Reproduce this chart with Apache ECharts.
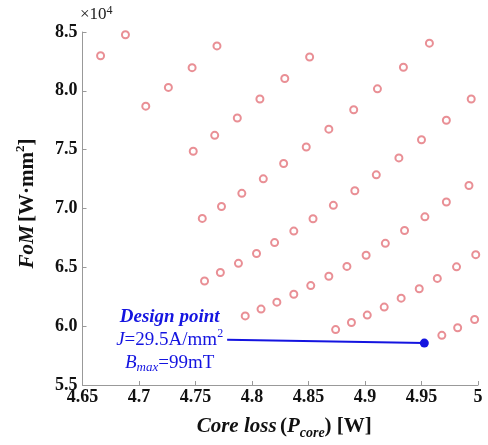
<!DOCTYPE html>
<html>
<head>
<meta charset="utf-8">
<script src="https://cdn.jsdelivr.net/npm/echarts@6/dist/echarts.min.js"></script>
<style>
  html, body { margin: 0; padding: 0; background: #fff; }
  #chart { width: 488px; height: 445px; }
</style>
</head>
<body>
<div id="chart"></div>
<script>
  // core loss [W], FoM [x10^4 W*mm^2] -- one array per sweep
  const curve1 = [[4.666, 8.298], [4.688, 8.477]];
  const curve2 = [[4.706, 7.870], [4.726, 8.029], [4.747, 8.197], [4.769, 8.382]];
  const curve3 = [[4.748, 7.487], [4.767, 7.622], [4.787, 7.769], [4.807, 7.931], [4.829, 8.105], [4.851, 8.288]];
  const curve4 = [[4.756, 6.916], [4.773, 7.017], [4.791, 7.129], [4.810, 7.252], [4.828, 7.382], [4.848, 7.523],
                  [4.868, 7.674], [4.890, 7.839], [4.911, 8.017], [4.934, 8.200], [4.957, 8.405]];
  const curve5 = [[4.758, 6.384], [4.772, 6.456], [4.788, 6.534], [4.804, 6.618], [4.820, 6.710], [4.837, 6.808],
                  [4.854, 6.913], [4.872, 7.027], [4.891, 7.151], [4.910, 7.286], [4.930, 7.430], [4.950, 7.584],
                  [4.972, 7.750], [4.994, 7.931]];
  const curve6 = [[4.794, 6.087], [4.808, 6.145], [4.822, 6.204], [4.837, 6.271], [4.852, 6.345], [4.868, 6.424],
                  [4.884, 6.508], [4.901, 6.603], [4.918, 6.704], [4.935, 6.813], [4.953, 6.929], [4.972, 7.055],
                  [4.992, 7.195]];
  const curve7 = [[4.874, 5.971], [4.888, 6.031], [4.902, 6.094], [4.917, 6.162], [4.932, 6.238], [4.948, 6.318],
                  [4.964, 6.406], [4.981, 6.504], [4.998, 6.608]];
  const curve8 = [[4.968, 5.922], [4.982, 5.987], [4.997, 6.057]];
  const designPoint = [4.9525, 5.856];
  const labelAnchor = [4.778, 5.884];

  const xMin = 4.65, xMax = 5, xStep = 0.05;
  const yMin = 5.5, yMax = 8.5, yStep = 0.5;

  const serif = '"Liberation Serif", "Times New Roman", serif';
  const ptColor = '#e4737b';
  const blue = '#1414e0';

  let chart = echarts.init(document.getElementById('chart'));

  // 每条扫描曲线画成空心圆
  let curves = [curve1, curve2, curve3, curve4, curve5, curve6, curve7, curve8].map(function (d) {
    return {
      type: 'scatter',
      data: d,
      symbol: 'emptyCircle',
      symbolSize: 7,
      itemStyle: { color: ptColor, borderWidth: 1.1 },
      z: 3
    };
  });

  chart.setOption({
    animation: false,
    backgroundColor: '#fff',
    grid: { left: 82.5, right: 10, top: 32, bottom: 56 },
    graphic: [{
      type: 'text',
      left: 80, top: 5,
      style: { text: '×10{sup|4}', fontFamily: serif, fontSize: 17, fill: '#222',
        rich: { sup: { fontSize: 12, verticalAlign: 'top', fontFamily: serif, lineHeight: 20 } } }
    }],
    xAxis: {
      type: 'value',
      min: xMin, max: xMax, interval: xStep,
      splitLine: { show: false },
      axisLine: { lineStyle: { color: '#999', width: 1 } },
      axisTick: { inside: true, length: 4, lineStyle: { color: '#999' } },
      axisLabel: { color: '#111', fontFamily: serif, fontWeight: 'bold', fontSize: 18, margin: 3 },
      name: '{bi|Core loss} {b|(}{bi|P}{sub|core}{b|) [W]}',
      nameLocation: 'middle',
      nameGap: 29,
      nameTextStyle: {
        padding: [0, 0, 0, 8],
        rich: {
          bi: { fontFamily: serif, fontWeight: 'bold', fontStyle: 'italic', fontSize: 21, color: '#111', lineHeight: 26 },
          b: { fontFamily: serif, fontWeight: 'bold', fontSize: 21, color: '#111', lineHeight: 26 },
          sub: { fontFamily: serif, fontWeight: 'bold', fontStyle: 'italic', fontSize: 14, color: '#111', verticalAlign: 'bottom', lineHeight: 26 }
        }
      }
    },
    yAxis: {
      type: 'value',
      min: yMin, max: yMax, interval: yStep,
      splitLine: { show: false },
      axisLine: { show: true, lineStyle: { color: '#999', width: 1 } },
      axisTick: { show: true, inside: true, length: 4, lineStyle: { color: '#999' } },
      axisLabel: {
        color: '#111', fontFamily: serif, fontWeight: 'bold', fontSize: 18, margin: 5,
        formatter: function (v) { return v.toFixed(1); }
      },
      name: '{bi|FoM} {b|[W·mm}{sup|2}{b|]}',
      nameLocation: 'middle',
      nameRotate: 90,
      nameGap: 42,
      nameTextStyle: {
        padding: [0, 0, 0, 10],
        rich: {
          bi: { fontFamily: serif, fontWeight: 'bold', fontStyle: 'italic', fontSize: 21, color: '#111', lineHeight: 26 },
          b: { fontFamily: serif, fontWeight: 'bold', fontSize: 21, color: '#111', lineHeight: 26 },
          sup: { fontFamily: serif, fontWeight: 'bold', fontSize: 13, color: '#111', verticalAlign: 'top', lineHeight: 26 }
        }
      }
    },
    series: curves.concat([{
      // 设计点 + 引线
      type: 'line',
      data: [
        {
          value: labelAnchor,
          symbolSize: 0,
          label: {
            show: true,
            position: 'left',
            distance: 4,
            formatter: '{t|Design point}\n{i|J}{n|=29.5A/mm}{sup|2}\n{i|B}{sub|max}{n|=99mT}',
            rich: {
              t: { fontFamily: serif, fontWeight: 'bold', fontStyle: 'italic', fontSize: 19, color: blue, lineHeight: 23, align: 'center' },
              i: { fontFamily: serif, fontStyle: 'italic', fontSize: 19, color: blue, lineHeight: 23, align: 'center' },
              n: { fontFamily: serif, fontSize: 19, color: blue, lineHeight: 23, align: 'center' },
              sup: { fontFamily: serif, fontSize: 12, color: blue, lineHeight: 23, verticalAlign: 'top', align: 'center' },
              sub: { fontFamily: serif, fontStyle: 'italic', fontSize: 13, color: blue, lineHeight: 23, verticalAlign: 'bottom', align: 'center' }
            }
          }
        },
        { value: designPoint, symbolSize: 9 }
      ],
      symbol: 'circle',
      lineStyle: { color: blue, width: 2 },
      itemStyle: { color: blue },
      z: 4
    }])
  });
</script>
</body>
</html>
